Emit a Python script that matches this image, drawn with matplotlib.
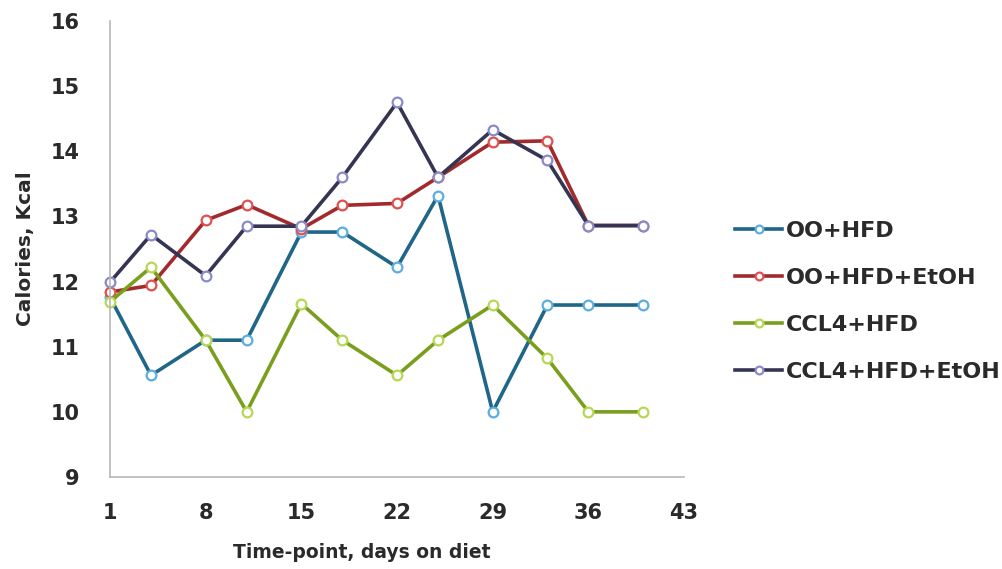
import matplotlib.pyplot as plt

days = [1, 4, 8, 11, 15, 18, 22, 25, 29, 33, 36, 40]

oo_hfd = [11.76, 10.56, 11.1, 11.1, 12.76, 12.76, 12.22, 13.32, 10.0, 11.64, 11.64, 11.64]
oo_hfd_etoh = [11.84, 11.94, 12.94, 13.18, 12.81, 13.17, 13.2, 13.6, 14.14, 14.16, 12.86, 12.86]
ccl4_hfd = [11.69, 12.22, 11.1, 10.0, 11.66, 11.1, 10.56, 11.1, 11.64, 10.82, 10.0, 10.0]
ccl4_hfd_etoh = [11.99, 12.72, 12.09, 12.85, 12.85, 13.6, 14.75, 13.6, 14.33, 13.86, 12.86, 12.86]

series = [
    ("OO+HFD", oo_hfd, '#1f6688', '#5aaee0'),
    ("OO+HFD+EtOH", oo_hfd_etoh, '#a32a2c', '#e05050'),
    ("CCL4+HFD", ccl4_hfd, '#7a9e1e', '#b5d855'),
    ("CCL4+HFD+EtOH", ccl4_hfd_etoh, '#353553', '#8a8ac8'),
]

x_ticks = [1, 8, 15, 22, 29, 36, 43]
y_ticks = [9, 10, 11, 12, 13, 14, 15, 16]

plt.rcParams['font.family'] = ['DejaVu Sans']
txt_c = '#2a2a2a'

fig = plt.figure(figsize=(10.03, 5.69), dpi=100)
ax = fig.add_axes([0.1097, 0.1617, 0.5723, 0.8014])

for name, vals, line_c, mark_c in series:
    ax.plot(days, vals, color=line_c, lw=2.6, marker='o', ms=7,
            mfc='white', mec=mark_c, mew=1.6, label=name, clip_on=False)

ax.set_xlim(1, 43)
ax.set_ylim(9, 16)
ax.set_xticks(x_ticks)
ax.set_yticks(y_ticks)
ax.tick_params(length=0, labelsize=15, colors=txt_c)
ax.tick_params(axis='x', pad=19)
ax.tick_params(axis='y', pad=22)
for lbl in ax.get_xticklabels() + ax.get_yticklabels():
    lbl.set_fontweight('bold')

for s in ['top', 'right']:
    ax.spines[s].set_visible(False)
for s in ['left', 'bottom']:
    ax.spines[s].set_color('#b8b8b8')
    ax.spines[s].set_linewidth(1.2)

# labels sit where the original put them, not at the axes centre
ax.set_xlabel('Time-point, days on diet', fontsize=13.5, fontweight='bold', color=txt_c)
ax.set_ylabel('Calories, Kcal', fontsize=14.5, fontweight='bold', color=txt_c)
ax.xaxis.set_label_coords(0.439, -0.145)
ax.yaxis.set_label_coords(-0.131, 0.5)

leg = fig.legend(loc='upper left', bbox_to_anchor=(0.733, 0.612), frameon=False,
                 fontsize=16, handlelength=2.1, handletextpad=0.2, labelspacing=1.22,
                 borderpad=0, borderaxespad=0, markerscale=0.8)
for t in leg.get_texts():
    t.set_fontweight('bold')
    t.set_color(txt_c)

fig.savefig('out.png', dpi=100, facecolor='white')
